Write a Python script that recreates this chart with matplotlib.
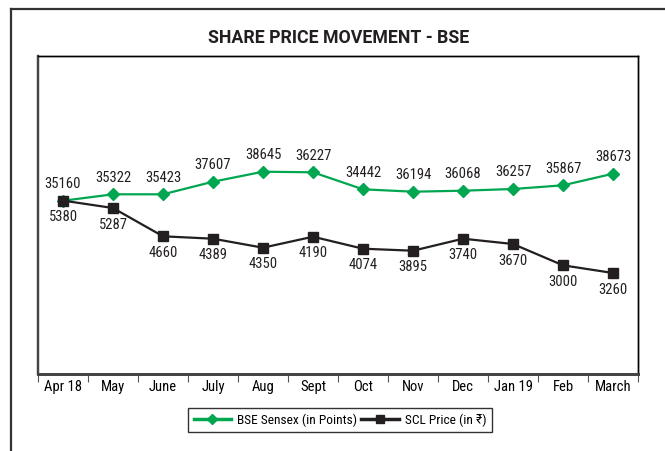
import matplotlib
matplotlib.use("Agg")
import matplotlib.pyplot as plt
from matplotlib.lines import Line2D

plt.rcParams['font.family'] = ['Roboto Condensed', 'DejaVu Sans']

months = ["Apr 18", "May", "June", "July", "Aug", "Sept", "Oct", "Nov", "Dec", "Jan 19", "Feb", "March"]
# plotted positions (as drawn) and printed labels
sensex_plot = [35160, 35908, 35908, 37374, 38538, 38468, 36490, 36211, 36327, 36525, 36955, 38305]
sensex_labels = [35160, 35322, 35423, 37607, 38645, 36227, 34442, 36194, 36068, 36257, 35867, 38673]
scl_plot = [5380, 5107, 4066, 3978, 3647, 4051, 3610, 3536, 3978, 3783, 2999, 2716]
scl_labels = [5380, 5287, 4660, 4389, 4350, 4190, 4074, 3895, 3740, 3670, 3000, 3260]

GREEN = "#00a650"
BLACK = "#231f20"

W, H = 665, 451
fig = plt.figure(figsize=(W / 100, H / 100), dpi=100)

# outer frame (left and top only)
fig.add_artist(Line2D([11 / W, 11 / W], [0, 1 - 9 / H], transform=fig.transFigure, color="#333333", lw=1.6))
fig.add_artist(Line2D([11 / W, 1], [1 - 9 / H, 1 - 9 / H], transform=fig.transFigure, color="#333333", lw=1.6))

left, right, top, bottom = 38, 638, 56, 374
ax = fig.add_axes([left / W, 1 - bottom / H, (right - left) / W, (bottom - top) / H])
ax2 = ax.twinx()

x = list(range(len(months)))
ax.plot(x, sensex_plot, color=GREEN, lw=1.6, marker="D", ms=6, mfc=GREEN, mec=GREEN, zorder=3)
ax2.plot(x, scl_plot, color=BLACK, lw=1.6, marker="s", ms=7, mfc=BLACK, mec=BLACK, zorder=3)

ax.set_xlim(-0.5, len(months) - 0.5)
ax.set_ylim(15000, 52000)
ax2.set_ylim(-1000, 10700)

for xi, yv, lab in zip(x, sensex_plot, sensex_labels):
    ax.annotate(str(lab), (xi, yv), xytext=(0, 7), textcoords="offset points",
                ha="center", va="bottom", fontsize=10.5, color=BLACK)
for xi, yv, lab in zip(x, scl_plot, scl_labels):
    ax2.annotate(str(lab), (xi, yv), xytext=(0, -7), textcoords="offset points",
                 ha="center", va="top", fontsize=10.5, color=BLACK)

for a in (ax, ax2):
    a.set_yticks([])
    for s in ("top", "right"):
        a.spines[s].set_color("black")
        a.spines[s].set_linewidth(1.0)
    a.spines["left"].set_color("#444444")
    a.spines["left"].set_linewidth(1.6)
    a.spines["bottom"].set_color("#444444")
    a.spines["bottom"].set_linewidth(2.0)

ax.set_xticks(x)
ax.set_xticklabels(months, fontsize=10.5)
ax.tick_params(axis="x", which="major", length=0, pad=4)
ax.set_xticks([i - 0.5 for i in range(len(months) + 1)], minor=True)
ax.tick_params(axis="x", which="minor", length=6, width=0.8, color="#555555", direction="out")

fig.text(339 / W, 1 - 38 / H, "SHARE PRICE MOVEMENT - BSE", ha="center", va="center",
         fontsize=12.8, fontweight="bold", color=BLACK, family=["Roboto", "DejaVu Sans"])

handles = [Line2D([], [], color=GREEN, lw=2.5, marker="D", ms=5, mfc=GREEN, mec=GREEN),
           Line2D([], [], color=BLACK, lw=2.5, marker="s", ms=6, mfc=BLACK, mec=BLACK)]
leg = fig.legend(handles, ["BSE Sensex (in Points)", "SCL Price (in ₹)"], loc="center",
                 bbox_to_anchor=(340 / W, 1 - 420 / H), ncol=2, frameon=True, fancybox=False,
                 fontsize=9.6, handlelength=2.8, columnspacing=0.3, handletextpad=0.45,
                 borderpad=0.4, edgecolor="black")
leg.get_frame().set_linewidth(1.0)

fig.savefig("out.png", dpi=100)
